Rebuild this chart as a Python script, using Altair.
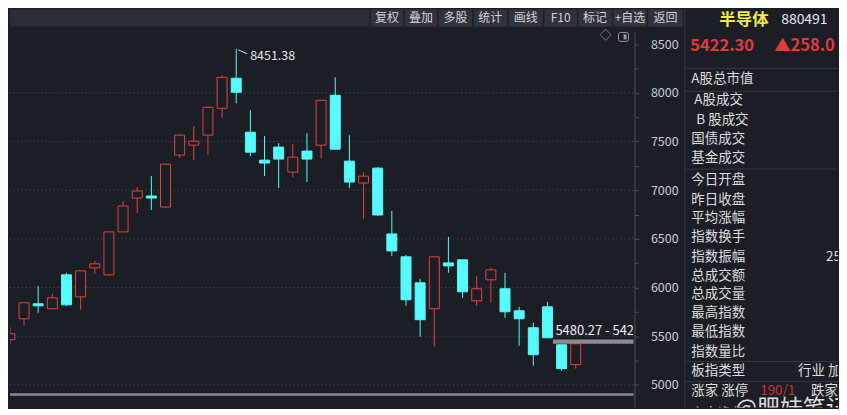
import altair as alt
import pandas as pd

# ---------------- data ----------------
opens  = [5464, 5679, 5833, 5782, 6130, 5904, 6202, 6130, 6571, 6919,
          6940, 6827, 7360, 7462, 7565, 7841, 8149, 7595, 7308, 7442,
          7185, 7401, 7462, 7974, 7298, 7073, 7226, 6550, 6315, 6048,
          5782, 6253, 6284, 5863, 6079, 5987, 5761, 5587, 5802, 5412, 5208]
closes = [5525, 5843, 5812, 5894, 5822, 6171, 6243, 6571, 6837, 6991,
          6919, 7267, 7565, 7503, 7851, 8159, 8005, 7390, 7278, 7319,
          7339, 7319, 7923, 7421, 7083, 7144, 6745, 6376, 5874, 5669,
          6315, 6222, 5956, 5987, 6181, 5751, 5679, 5310, 5484, 5167, 5422.30]
highs  = [5597, 5843, 6017, 5935, 6151, 6171, 6274, 6571, 6888, 7032,
          7144, 7267, 7575, 7657, 7862, 8179, 8451.38, 7821, 7554, 7483,
          7472, 7585, 7923, 8159, 7565, 7185, 7237, 6786, 6335, 6089,
          6315, 6519, 6284, 6120, 6202, 6151, 5802, 5638, 5853, 5412, 5443]
lows   = [5412, 5607, 5740, 5782, 5812, 5771, 6140, 6130, 6571, 6765,
          6796, 6817, 7329, 7308, 7360, 7739, 7892, 7349, 7144, 7022,
          7134, 7083, 7329, 7421, 7022, 6704, 6735, 6325, 5812, 5495,
          5392, 6151, 5894, 5812, 5843, 5689, 5402, 5197, 5484, 5146, 5167]

grid_values = [5000, 5500, 6000, 6500, 7000, 7500, 8000]
tick_values = list(range(5000, 8501, 250))
range_hi = 5480.27

toolbar_labels = ["复权", "叠加", "多股", "统计", "画线", "F10", "标记", "+自选", "返回"]

title_name = "半导体"
title_code = "880491"
change_text = "▲258.0"

row_labels = ["A股总市值", "A股成交", "B 股成交", "国债成交", "基金成交", "今日开盘",
              "昨日收盘", "平均涨幅", "指数换手", "指数振幅", "总成交额", "总成交量",
              "最高指数", "最低指数", "指数量比", "板指类型", "涨家 涨停", "主力净额"]
row_values_white = ["11", "15", "8", "3", "259.1", "2", "行业 加权", "跌家 跌停"]
row_values_red = ["190/1", "81.6"]
watermark = "@肥妹笔记"

# ---------------- layout / style ----------------
H = 399
PLOT_W = 625          # price view width
AXIS_W = 1            # thin view that carries the price axis
RIGHT_X0 = PLOT_W + AXIS_W
PANEL_L = 676         # left edge of the quote panel
RIGHT_W = 830 - RIGHT_X0
FONT = "Noto Sans CJK SC"
BG = "#1c1e25"
RED = "#e0453f"
CYAN = "#55fbfb"
AXC = "#4a4d58"
LINEC = "#363945"

n = len(opens)
assert all(len(a) == n for a in (closes, highs, lows))
df = pd.DataFrame({"i": list(range(n)), "open": opens, "high": highs,
                   "low": lows, "close": closes})
df["body_lo"] = df[["open", "close"]].min(axis=1)
df["body_hi"] = df[["open", "close"]].max(axis=1)

UP = "datum.close >= datum.open"
xs = alt.Scale(domain=[0, n - 1], range=[-5.1, 572.1], zero=False, nice=False)
ys = alt.Scale(domain=[4770, 8625], range=[398.75, 22.5], zero=False, nice=False)
X = alt.X("i:Q", scale=xs, axis=None)

yaxis = alt.Axis(orient="right", values=tick_values,
                 labelExpr="datum.value % 500 === 0 ? datum.label : ''", format="d",
                 grid=False, domainColor=AXC, tickColor=AXC, tickSize=4,
                 labelColor="#cfcfcf", labelFontSize=12.5, labelFont=FONT,
                 labelPadding=12, labelAlign="left", labelBaseline="middle",
                 labelOverlap=False, labelFlush=False, title="")

one = pd.DataFrame({"a": [0]})


def px_text(items, **style):
    d = pd.DataFrame(items, columns=["txt", "px", "py"])
    props = dict(align="left", baseline="middle", font=FONT, clip=True)
    props.update(style)
    return alt.Chart(d).mark_text(**props).encode(
        x=alt.X("px:Q", scale=None, axis=None),
        y=alt.Y("py:Q", scale=None, axis=None),
        text="txt:N")


# ---------- price view ----------
toolbar_bg = alt.Chart(one).mark_rect(color="#2a2c36").encode(
    x=alt.value(0), x2=alt.value(PANEL_L), y=alt.value(0), y2=alt.value(17))
edges = [361, 395, 429, 464, 499, 535, 569, 604, 639, 675]
btn_df = pd.DataFrame({"txt": toolbar_labels, "x0": edges[:-1], "x1": edges[1:]})
btn_df["cx"] = (btn_df.x0 + btn_df.x1) / 2
btn_bg = alt.Chart(btn_df).mark_rect(color="#30323d").encode(
    x=alt.X("x0:Q", scale=None, axis=None), x2="x1:Q",
    y=alt.value(0), y2=alt.value(17))
btn_sep = alt.Chart(pd.DataFrame({"e": edges})).mark_rule(color="#1d1f26", strokeWidth=1.5).encode(
    x=alt.X("e:Q", scale=None, axis=None), y=alt.value(0), y2=alt.value(17))
btn_txt = alt.Chart(btn_df).mark_text(font=FONT, fontSize=12, color="#d2d2d2",
                                      baseline="middle", align="center").encode(
    x=alt.X("cx:Q", scale=None, axis=None), y=alt.value(8.5), text="txt:N")

icon_diamond = alt.Chart(one).mark_text(text="◇", fontSize=12, color="#9a9a9a",
                                        align="left", baseline="middle", font=FONT).encode(
    x=alt.value(591), y=alt.value(27))
icon_box = alt.Chart(one).mark_rect(fill=BG, stroke="#9a9a9a", strokeWidth=1, cornerRadius=2).encode(
    x=alt.value(610), x2=alt.value(620), y=alt.value(23), y2=alt.value(32))
icon_box_in = alt.Chart(one).mark_rect(fill="#9a9a9a").encode(
    x=alt.value(615), x2=alt.value(618), y=alt.value(25), y2=alt.value(30))

grid = alt.Chart(pd.DataFrame({"v": grid_values})).mark_rule(
    color="#50535e", strokeDash=[1, 3], strokeWidth=1).encode(
    y=alt.Y("v:Q", scale=ys, axis=None), x=alt.value(0), x2=alt.value(PLOT_W))
divider = alt.Chart(one).mark_rule(color="#8a8a8a", strokeWidth=2.5).encode(
    y=alt.value(386), x=alt.value(0), x2=alt.value(PLOT_W))

wicks = alt.Chart(df).mark_rule(strokeWidth=1, clip=True).encode(
    x=X,
    y=alt.Y("low:Q", scale=ys, axis=None),
    y2="high:Q",
    color=alt.condition(UP, alt.value(RED), alt.value(CYAN)))
bodies = alt.Chart(df).mark_bar(size=10, strokeWidth=1, clip=True).encode(
    x=X,
    y=alt.Y("body_lo:Q", scale=ys, axis=None),
    y2="body_hi:Q",
    fill=alt.condition(UP, alt.value(BG), alt.value(CYAN)),
    stroke=alt.condition(UP, alt.value(RED), alt.value(CYAN)))

hi_df = df.loc[[df.high.idxmax()], ["i", "high"]].copy()
hi_df["txt"] = hi_df.high.map(lambda v: f"{v:.2f}")
hi_flag = alt.Chart(hi_df).mark_rule(color="#e6e6e6", strokeWidth=1,
                                     xOffset=2, x2Offset=11, yOffset=1, y2Offset=5).encode(
    x=X, x2="i:Q", y=alt.Y("high:Q", scale=ys, axis=None), y2="high:Q")
hi_text = alt.Chart(hi_df).mark_text(align="left", baseline="middle", dx=14, dy=7,
                                     fontSize=12.5, color="#e6e6e6", font=FONT).encode(
    x=X, y=alt.Y("high:Q", scale=ys, axis=None), text="txt:N")

rng_df = pd.DataFrame({"i": [n - 3], "hi": [range_hi], "lo": [closes[-1]]})
rng_df["txt"] = f"{range_hi:.2f} - {closes[-1]:.2f}"
band = alt.Chart(rng_df).mark_rect(color="#8d8d8d", xOffset=5.5, yOffset=1.5).encode(
    x=X, x2=alt.value(PLOT_W), y=alt.Y("hi:Q", scale=ys, axis=None), y2="lo:Q")
band_text = alt.Chart(rng_df).mark_text(align="left", baseline="middle", dx=8, dy=-7,
                                        fontSize=13, color="#f0f0f0", font=FONT,
                                        clip=True).encode(
    x=X, y=alt.Y("hi:Q", scale=ys, axis=None), text="txt:N")

price = alt.layer(
    toolbar_bg, btn_bg, btn_sep, btn_txt, icon_diamond, icon_box, icon_box_in,
    grid, divider, wicks, bodies, hi_flag, hi_text, band, band_text,
).properties(width=PLOT_W, height=H)

# ---------- price axis (its own thin view, same price scale) ----------
axis_view = alt.Chart(pd.DataFrame({"v": tick_values})).mark_tick(opacity=0).encode(
    y=alt.Y("v:Q", scale=ys, axis=yaxis)
).properties(width=AXIS_W, height=H)

# ---------- quote panel ----------
def px(x):
    return x - RIGHT_X0


panel_border = alt.Chart(one).mark_rule(color=LINEC, strokeWidth=1).encode(
    x=alt.value(px(PANEL_L) + 0.5), y=alt.value(0), y2=alt.value(H))
panel_lines = alt.Chart(pd.DataFrame({"py": [59, 82, 160, 353, 373]})).mark_rule(
    color=LINEC, strokeWidth=1).encode(
    y=alt.Y("py:Q", scale=None, axis=None), x=alt.value(px(PANEL_L)), x2=alt.value(RIGHT_W))

head_name = px_text([(title_name, px(711), 10.5)], fontSize=16.5, fontWeight="bold", color="#f3ea45")
head_code = px_text([(title_code, px(773), 11)], fontSize=14, color="#e8e8e8")
head_price = px_text([(f"{closes[-1]:.2f}", px(682), 37), (change_text, px(766), 37)],
                     fontSize=16.5, fontWeight="bold", color="#e23a3e")

row_y = [70, 91, 111, 130, 149, 171, 191, 209, 228, 248, 267, 285, 304, 323, 343, 362, 382, 406]
row_x = [px(683), px(686), px(688)] + [px(683)] * (len(row_labels) - 3)
labels = px_text(list(zip(row_labels, row_x, row_y)), fontSize=13.5, color="#dedede")
val_white = px_text(list(zip(row_values_white,
                             [px(v) for v in [835, 835, 841, 841, 818, 841, 790, 803]],
                             [70, 91, 130, 149, 248, 267, 362, 382])),
                    fontSize=13.5, color="#dedede")
val_red = px_text(list(zip(row_values_red, [px(752), px(821)], [382, 406])),
                  fontSize=13.5, color="#c8353a")
wm = px_text([(watermark, px(727), 401)], fontSize=23, color="#f4f4f4", opacity=0.9)

panel = alt.layer(
    panel_border, panel_lines, head_name, head_code, head_price,
    labels, val_white, val_red, wm,
).properties(width=RIGHT_W, height=H)

chart = alt.hconcat(price, axis_view, panel, spacing=0, bounds="flush").properties(
    padding=0, background=BG,
).configure_view(strokeWidth=0)

chart.save("out.html", embed_options={"renderer": "svg", "actions": False})
